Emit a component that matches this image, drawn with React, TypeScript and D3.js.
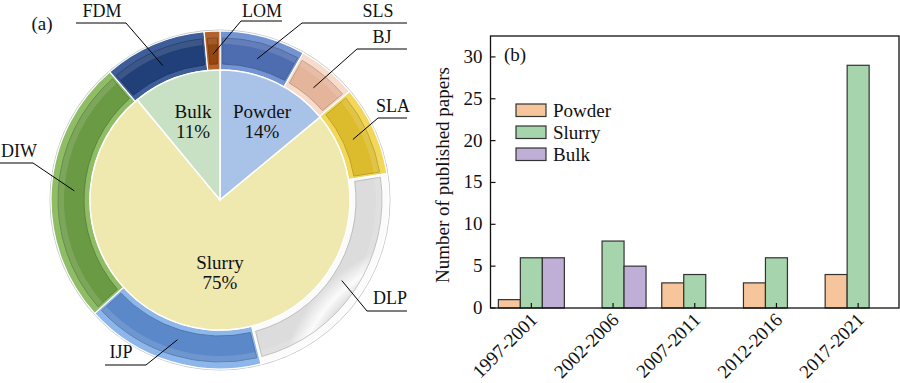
import React from "react";
import * as d3 from "d3";

// ---------- Data ----------
const pieCategories = ["Powder", "Slurry", "Bulk"];
const pieValues = [14, 75, 11];
const pieLabels = ["14%", "75%", "11%"];

const ringMethods = ["SLS", "BJ", "SLA", "DLP", "IJP", "DIW", "FDM", "LOM"];
const ringValues = [8.2, 5.7, 8.6, 23.6, 17.2, 25.4, 9.8, 1.5];

const periods = ["1997-2001", "2002-2006", "2007-2011", "2012-2016", "2017-2021"];
const seriesNames = ["Powder", "Slurry", "Bulk"];
const powderCounts = [1, 0, 3, 3, 4];
const slurryCounts = [6, 8, 4, 6, 29];
const bulkCounts = [6, 5, 0, 0, 0];
const yTicks = [0, 5, 10, 15, 20, 25, 30];

// ---------- Styles / layout ----------
const FONT = "Liberation Serif, Times New Roman, DejaVu Serif, serif";
const pieFill: Record<string, string> = {
  Powder: "#a9c3e8",
  Slurry: "#efe9b0",
  Bulk: "#c8e1c5",
};
const ringFrame: Record<string, string> = {
  SLS: "#7393d2",
  BJ: "#f7dccc",
  SLA: "#f2d75a",
  DLP: "#fbfbfb",
  IJP: "#8db7ea",
  DIW: "#8fbd66",
  FDM: "#3e5e9a",
  LOM: "#b4622c",
};
const ringPanel: Record<string, string> = {
  SLS: "#4e6db0",
  BJ: "#e4b49b",
  SLA: "#dcbc2c",
  DLP: "#dcdcdc",
  IJP: "#5b88c9",
  DIW: "#6a9a44",
  FDM: "#213f78",
  LOM: "#94460f",
};
// label layout: elbow point, horizontal end, text position
const ringLabelLayout: Record<string, { ex: number; ey: number; hx: number; tx: number; ty: number }> = {
  SLS: { ex: 302, ey: 23, hx: 407, tx: 378, ty: 17 },
  BJ: { ex: 357, ey: 49, hx: 407, tx: 382, ty: 43 },
  SLA: { ex: 378, ey: 118, hx: 407, tx: 393, ty: 112 },
  DLP: { ex: 367, ey: 311, hx: 407, tx: 390, ty: 304 },
  IJP: { ex: 146, ey: 365, hx: 105, tx: 121, ty: 358 },
  DIW: { ex: 33, ey: 163, hx: 0, tx: 19, ty: 157 },
  FDM: { ex: 126, ey: 23, hx: 76, tx: 102, ty: 17 },
  LOM: { ex: 241, ey: 21, hx: 282, tx: 262, ty: 17 },
};
const barFill: Record<string, string> = {
  Powder: "#f6c59b",
  Slurry: "#a6d4ad",
  Bulk: "#bfaed6",
};

const CX = 220;
const CY = 200;
const R_IN = 130;
const R_OUT = 170;

const PL = 490.5;
const PR = 899;
const PT = 36;
const PB = 308;

const textStyle = { fontFamily: FONT };

function Donut() {
  const pie = d3.pie<number>().sort(null).value((d) => d);
  const inner = pie(pieValues);
  const ring = pie(ringValues);
  const innerArc = d3.arc<d3.PieArcDatum<number>>().innerRadius(0).outerRadius(R_IN);
  const frameArc = d3.arc<d3.PieArcDatum<number>>().innerRadius(R_IN).outerRadius(R_OUT - 1);
  const panelArc = d3
    .arc<d3.PieArcDatum<number>>()
    .innerRadius(R_IN + 6)
    .outerRadius(R_OUT - 8)
    .padAngle(0.035)
    .padRadius(150);
  const hiArc = d3
    .arc<d3.PieArcDatum<number>>()
    .innerRadius(R_OUT - 14)
    .outerRadius(R_OUT - 8)
    .padAngle(0.035)
    .padRadius(150);

  const labelPos = [
    { dx: 42, dy: -82 },
    { dx: 0, dy: 69 },
    { dx: -27, dy: -82 },
  ];

  return (
    <g>
      <defs>
        {ringMethods.map((m) => (
          <radialGradient
            key={m}
            id={`g-${m}`}
            gradientUnits="userSpaceOnUse"
            cx={CX}
            cy={CY}
            r={R_OUT}
          >
            <stop offset={`${((R_IN + 6) / R_OUT) * 100}%`} stopColor={ringPanel[m]} />
            <stop offset={`${((R_IN + 16) / R_OUT) * 100}%`} stopColor={ringFrame[m]} />
            <stop offset={`${((R_OUT - 8) / R_OUT) * 100}%`} stopColor={ringPanel[m]} />
          </radialGradient>
        ))}
      </defs>
      <circle cx={CX} cy={CY} r={R_OUT} fill="#e4e4e4" stroke="#c8c8c8" strokeWidth={1} />
      <g transform={`translate(${CX},${CY})`}>
        {ring.map((d, i) => (
          <path
            key={"f" + i}
            d={frameArc(d) || ""}
            fill={ringFrame[ringMethods[i]]}
            stroke="#ffffff"
            strokeWidth={1.2}
          />
        ))}
        {ring.map((d, i) => (
          <path
            key={"p" + i}
            d={panelArc(d) || ""}
            fill={`url(#g-${ringMethods[i]})`}
            stroke={d3.color(ringPanel[ringMethods[i]])!.darker(0.6).toString()}
            strokeWidth={0.8}
          />
        ))}
        {ring.map((d, i) => (
          <path key={"h" + i} d={hiArc(d) || ""} fill="#ffffff" opacity={0.12} />
        ))}
        {inner.map((d, i) => (
          <path
            key={"s" + i}
            d={innerArc(d) || ""}
            fill={pieFill[pieCategories[i]]}
            stroke="#ffffff"
            strokeWidth={1.5}
          />
        ))}
        {inner.map((d, i) => (
          <text
            key={"t" + i}
            x={labelPos[i].dx}
            y={labelPos[i].dy}
            textAnchor="middle"
            style={textStyle}
            fontSize={19}
            fill="#111"
          >
            <tspan x={labelPos[i].dx}>{pieCategories[i]}</tspan>
            <tspan x={labelPos[i].dx} dy={20}>
              {pieLabels[i]}
            </tspan>
          </text>
        ))}
      </g>
      {ring.map((d, i) => {
        const m = ringMethods[i];
        const L = ringLabelLayout[m];
        const a = (d.startAngle + d.endAngle) / 2;
        const px = CX + 146 * Math.sin(a);
        const py = CY - 146 * Math.cos(a);
        return (
          <g key={"l" + m}>
            <polyline
              points={`${px},${py} ${L.ex},${L.ey} ${L.hx},${L.ey}`}
              fill="none"
              stroke="#000"
              strokeWidth={1}
            />
            <text x={L.tx} y={L.ty} textAnchor="middle" style={textStyle} fontSize={18} fill="#111">
              {m}
            </text>
          </g>
        );
      })}
      <text x={42} y={30} textAnchor="middle" style={textStyle} fontSize={19} fill="#111">
        (a)
      </text>
    </g>
  );
}

function Bars() {
  const x = d3.scaleBand<string>().domain(periods).range([PL, PR]).padding(0);
  const sub = d3.scaleBand<string>().domain(seriesNames).range([-33, 33]).padding(0);
  const y = d3.scaleLinear().domain([0, 32.5]).range([PB, PT]);
  const series = [powderCounts, slurryCounts, bulkCounts];

  return (
    <g style={textStyle} fill="#111">
      {series.map((vals, si) =>
        vals.map((v, ci) =>
          v > 0 ? (
            <rect
              key={`${si}-${ci}`}
              x={x(periods[ci])! + x.bandwidth() / 2 + sub(seriesNames[si])!}
              y={y(v)}
              width={sub.bandwidth()}
              height={y(0) - y(v)}
              fill={barFill[seriesNames[si]]}
              stroke="#333"
              strokeWidth={1.2}
            />
          ) : null
        )
      )}
      <rect x={PL} y={PT} width={PR - PL} height={PB - PT} fill="none" stroke="#111" strokeWidth={1.3} />
      {yTicks.map((t) => (
        <g key={"y" + t}>
          <line x1={PL} x2={PL + 5} y1={y(t)} y2={y(t)} stroke="#111" strokeWidth={1.2} />
          <text x={PL - 8} y={y(t) + 6} textAnchor="end" fontSize={19}>
            {t}
          </text>
        </g>
      ))}
      {periods.map((p) => {
        const cx = x(p)! + x.bandwidth() / 2;
        return (
          <g key={"x" + p}>
            <line x1={cx} x2={cx} y1={PB} y2={PB - 5} stroke="#111" strokeWidth={1.2} />
            <text
              transform={`translate(${cx + 7},${PB + 13}) rotate(-45)`}
              textAnchor="end"
              fontSize={19}
            >
              {p}
            </text>
          </g>
        );
      })}
      <text
        transform={`translate(${449},${(PT + PB) / 2 + 3}) rotate(-90)`}
        textAnchor="middle"
        fontSize={19}
      >
        Number of published papers
      </text>
      <text x={504} y={61} fontSize={19}>
        (b)
      </text>
      {seriesNames.map((s, i) => (
        <g key={"lg" + s}>
          <rect
            x={516}
            y={104 + i * 22}
            width={30}
            height={12.5}
            fill={barFill[s]}
            stroke="#333"
            strokeWidth={1.2}
          />
          <text x={553} y={117 + i * 22} fontSize={19}>
            {s}
          </text>
        </g>
      ))}
    </g>
  );
}

export default function App() {
  return (
    <svg
      width={900}
      height={383}
      viewBox="0 0 900 383"
      style={{ position: "absolute", left: 0, top: 0, background: "#fff" }}
    >
      <rect width={900} height={383} fill="#fff" />
      <Donut />
      <Bars />
    </svg>
  );
}
